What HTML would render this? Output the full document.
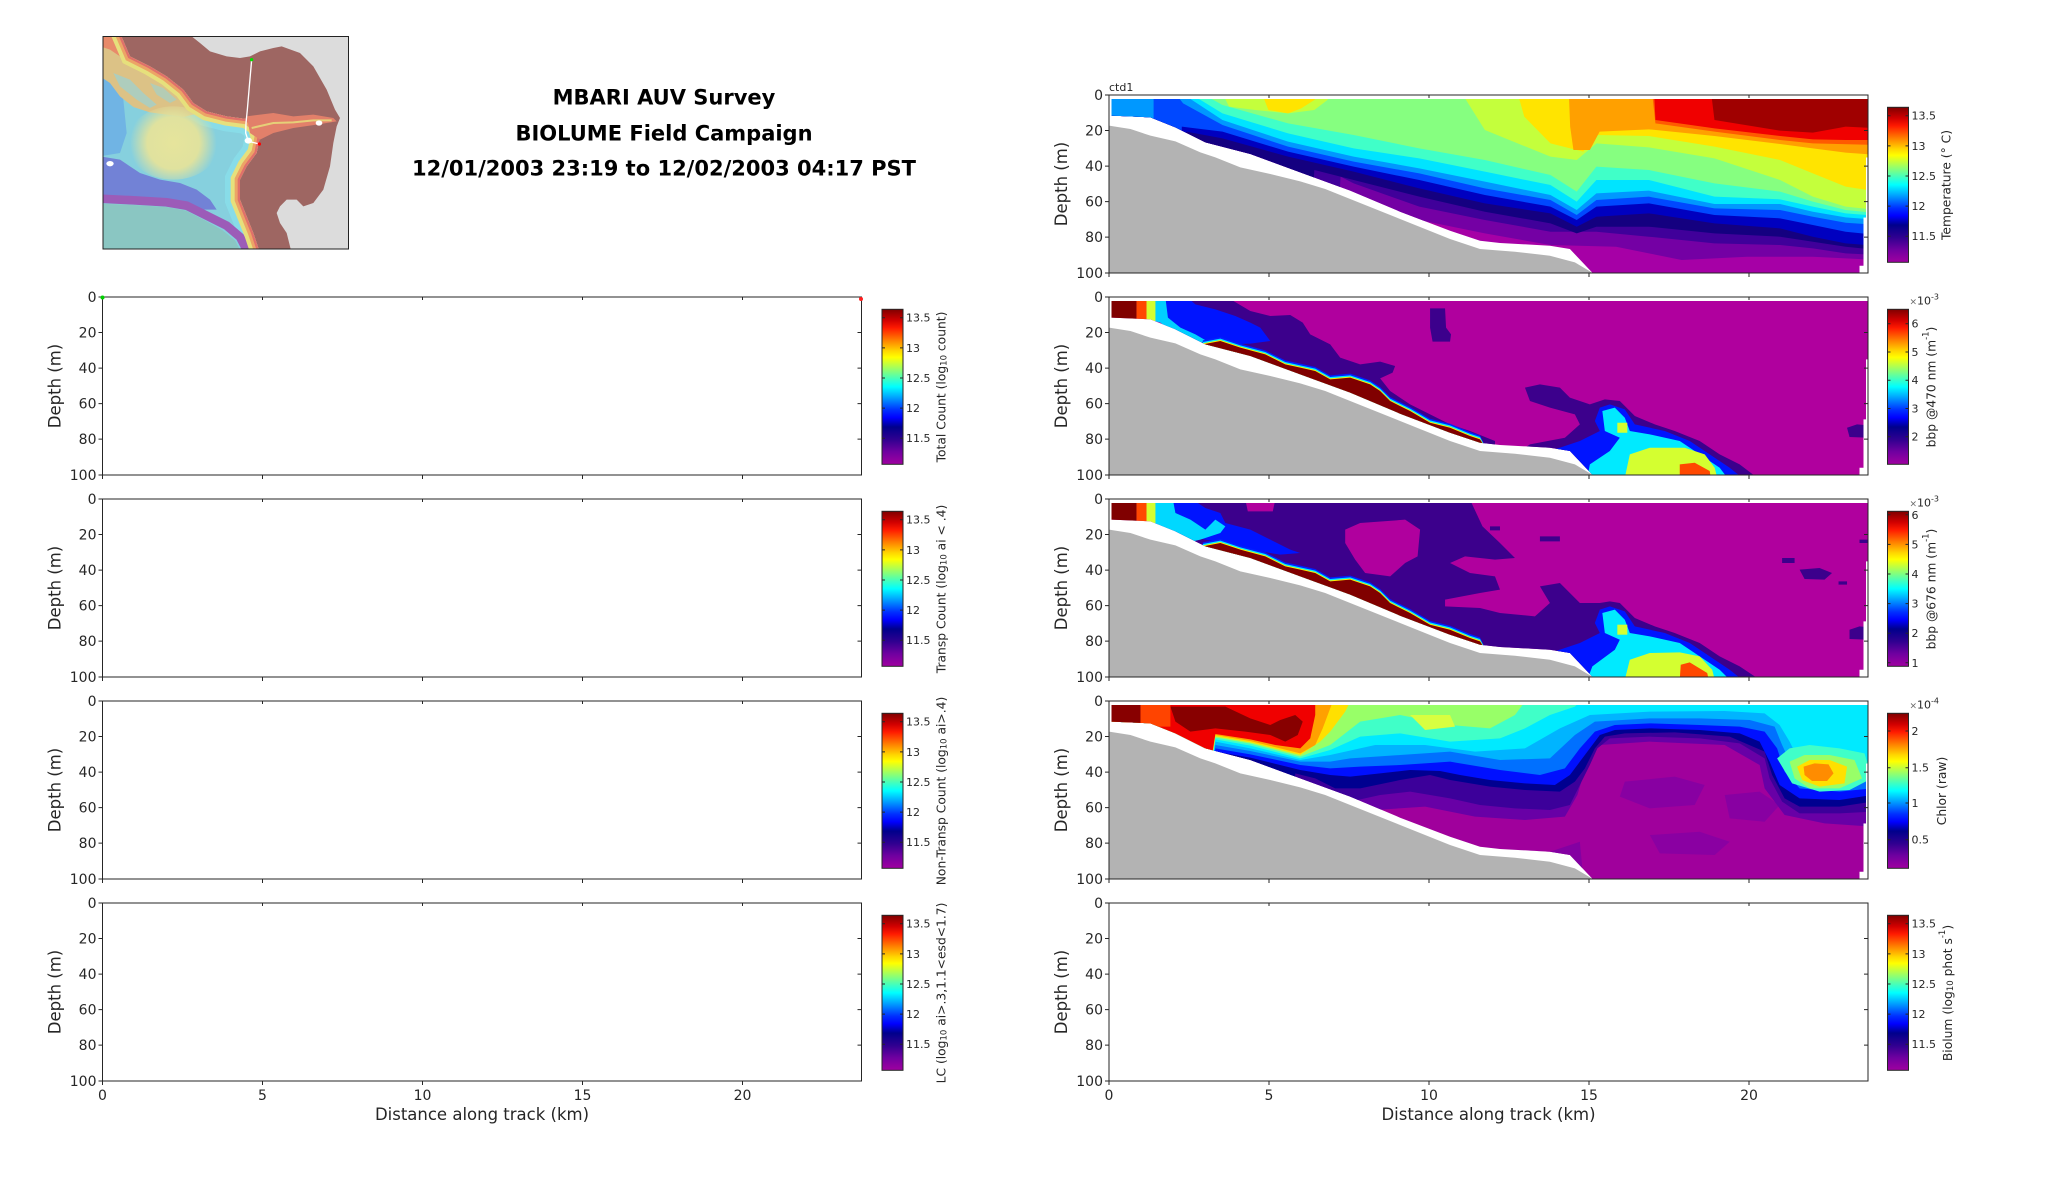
<!DOCTYPE html>
<html><head><meta charset="utf-8">
<style>
html,body{margin:0;padding:0;background:#fff;}
svg{display:block;}
text{font-family:"DejaVu Sans","Liberation Sans",sans-serif;fill:#262626;}
</style></head>
<body>
<svg width="2052" height="1188" viewBox="0 0 2052 1188" xmlns="http://www.w3.org/2000/svg" xmlns:xlink="http://www.w3.org/1999/xlink">
<defs>
<linearGradient id="cm" x1="0" y1="0" x2="0" y2="1">
<stop offset="0" stop-color="#7f0000"/><stop offset="0.07" stop-color="#d00000"/><stop offset="0.12" stop-color="#ff1a00"/>
<stop offset="0.2" stop-color="#ff8000"/><stop offset="0.27" stop-color="#ffd800"/><stop offset="0.31" stop-color="#ffff00"/>
<stop offset="0.38" stop-color="#a0ff60"/><stop offset="0.45" stop-color="#40ffc0"/><stop offset="0.5" stop-color="#00ffff"/>
<stop offset="0.57" stop-color="#00a0ff"/><stop offset="0.65" stop-color="#0030ff"/><stop offset="0.7" stop-color="#0000ff"/>
<stop offset="0.76" stop-color="#00008c"/><stop offset="0.84" stop-color="#300090"/><stop offset="0.92" stop-color="#7000a0"/>
<stop offset="1" stop-color="#a000a0"/>
</linearGradient>
<radialGradient id="py" cx="220" cy="330" r="130" gradientUnits="userSpaceOnUse">
<stop offset="0" stop-color="#e6e49c"/><stop offset="0.6" stop-color="#e0e29e"/><stop offset="1" stop-color="#e0e29e" stop-opacity="0"/>
</radialGradient>
<clipPath id="dom"><polygon points="22,30 1537,30 1537,205 1533,205 1533,385 1528,385 1528,530 1520,530 1520,551 985,551 940,480 900,470 800,462 760,455 700,425 600,368 500,305 400,250 300,195 210,160 150,115 100,85 22,80"/></clipPath>
<clipPath id="mc2"><rect x="8" y="10" width="737" height="638"/></clipPath>
<clipPath id="rclip"><polygon points="0,0 60,0 90,70 150,100 200,130 250,170 280,210 320,235 380,250 440,258 470,280 480,310 470,360 440,400 420,440 420,500 440,550 460,600 480,660 0,660"/></clipPath>

<g id="ax" stroke="#262626" stroke-width="1" fill="none">
<rect x="0" y="0" width="759" height="178"/>
<path d="M0,0h-4M0,35.54h-4M0,71.08h-4M0,106.62h-4M0,142.16h-4M0,178h-4M759,35.54h-4M759,71.08h-4M759,106.62h-4M759,142.16h-4M160,0v3M320,0v3M480,0v3M640,0v3M0,178v4M160,178v4M320,178v4M480,178v4M640,178v4"/>
</g>
<g id="yl" font-size="14" text-anchor="end" fill="#262626" font-family="DejaVu Sans, sans-serif">
<text x="-6" y="5">0</text><text x="-6" y="40.5">20</text><text x="-6" y="76">40</text>
<text x="-6" y="111.6">60</text><text x="-6" y="147.2">80</text><text x="-6" y="183">100</text>
</g>
<g id="cbStd">
<rect x="0" y="0" width="21" height="155" fill="url(#cm)" stroke="#262626" stroke-width="1"/>
<path d="M0,8.4h3M21,8.4h-3M0,38.6h3M21,38.6h-3M0,68.7h3M21,68.7h-3M0,98.8h3M21,98.8h-3M0,128.9h3M21,128.9h-3" stroke="#262626" stroke-width="1"/>
<g font-size="11" fill="#262626" font-family="DejaVu Sans, sans-serif">
<text x="24" y="12.4">13.5</text><text x="24" y="42.6">13</text><text x="24" y="72.7">12.5</text><text x="24" y="102.8">12</text><text x="24" y="132.9">11.5</text>
</g>
</g>
<g id="gray"><polygon fill="#b3b3b3" points="17,551 17,110 60,120 100,140 150,157 200,190 230,205 280,235 340,255 400,277 450,300 500,330 600,390 700,450 760,480 830,488 900,500 950,520 985,551"/></g>
<g id="band">
<polygon fill="#0020ff" points="205,148 240,138 280,158 330,178 370,208 400,218 430,228 460,253 500,248 540,268 560,288 580,318 620,348 660,383 700,398 740,423 760,433 775,480 200,220"/>
<polygon fill="#00eaff" points="205,153 240,143 280,163 330,183 370,213 400,223 430,233 460,258 500,253 540,273 560,293 580,323 620,353 660,388 700,403 740,428 760,438 775,480 200,220"/>
<polygon fill="#ffee00" points="205,157 240,147 280,167 330,187 370,217 400,227 430,237 460,262 500,257 540,277 560,297 580,327 620,357 660,392 700,407 740,432 760,442 775,480 200,220"/>
<polygon fill="#800000" points="205,160 240,150 280,170 330,190 370,220 400,230 430,240 460,265 500,260 540,280 560,300 580,330 620,360 660,395 700,410 740,435 760,445 775,480 600,420 400,300 200,220"/>
</g>
</defs>

<rect width="2052" height="1188" fill="#fff"/>

<!-- MAP -->
<g transform="translate(100,33) scale(0.333333)">
<g clip-path="url(#mc2)">
<rect x="0" y="0" width="760" height="660" fill="#dcdcdc"/>
<polygon fill="#9e6662" points="0,0 275,0 275,10 300,30 330,55 380,70 420,75 450,70 480,55 520,45 545,40 600,60 640,100 680,170 705,230 720,255 710,280 700,330 690,400 670,470 640,510 610,520 590,500 560,500 540,520 530,540 540,570 560,600 575,660 0,660"/>
<g clip-path="url(#rclip)">
<rect x="0" y="0" width="760" height="660" fill="#86d0de"/>
<polyline fill="none" stroke="#88dce8" stroke-width="90" points="60,0 90,70 150,100 200,130 250,170 280,210 320,235 380,250 440,258 470,280 480,310 470,360 440,400 420,440 420,500 440,550 460,600 480,660"/>
<polygon fill="#70b4e4" points="0,120 40,130 70,200 80,300 60,360 0,370"/>
<polygon fill="#dcc286" points="0,0 60,0 90,70 150,100 200,130 250,170 280,210 300,240 250,252 200,245 150,238 100,222 60,190 30,150 0,130"/>
<polygon fill="#9ad2d4" opacity="0.7" points="40,120 90,140 130,180 170,215 150,225 110,200 60,160"/>
<polygon fill="#9ad2d4" opacity="0.6" points="150,150 190,165 230,200 210,210 170,185"/>
<polygon fill="#e88a6a" points="0,0 60,0 80,50 60,70 30,50 0,40"/>
<ellipse cx="220" cy="330" rx="140" ry="110" fill="url(#py)"/>
<polygon fill="#7282d6" points="0,370 60,380 120,420 180,440 240,450 290,470 330,500 350,530 300,530 220,505 120,495 0,490"/>
<polyline fill="none" stroke="#9c5cb8" stroke-width="26" points="0,497 100,502 200,508 260,518 320,548 380,578 420,612 445,660"/>
<polygon fill="#8ac6c2" points="0,512 100,516 200,522 258,533 315,562 368,592 405,622 425,660 0,660"/>
<polyline fill="none" stroke="#e6e07c" stroke-width="56" points="60,0 90,70 150,100 200,130 250,170 280,210 320,235 380,250 440,258 470,280 480,310 470,360 440,400 420,440 420,500 440,550 460,600 480,660"/>
<polyline fill="none" stroke="#eca466" stroke-width="32" points="60,0 90,70 150,100 200,130 250,170 280,210 320,235 380,250 440,258 470,280 480,310 470,360 440,400 420,440 420,500 440,550 460,600 480,660"/>
<polyline fill="none" stroke="#e0706a" stroke-width="14" points="60,0 90,70 150,100 200,130 250,170 280,210 320,235 380,250 440,258 470,280 480,310 470,360 440,400 420,440 420,500 440,550 460,600 480,660"/>
</g>
<polygon fill="#e2806a" points="440,250 520,240 580,250 640,245 700,255 710,265 650,275 580,285 520,300 480,320 450,300"/>
<polyline fill="none" stroke="#e6cf78" stroke-width="6" points="455,285 520,270 580,268 640,262 695,262"/>
<polyline fill="none" stroke="#fff" stroke-width="4" points="455,80 448,160 442,230 438,270 437,300 445,325 478,333"/>
<ellipse cx="445" cy="323" rx="11" ry="9" fill="#fff"/>
<circle cx="455" cy="80" r="5" fill="#00e000"/>
<circle cx="478" cy="333" r="5" fill="#ff0000"/>
<ellipse cx="657" cy="270" rx="10" ry="8" fill="#fff"/>
<ellipse cx="30" cy="392" rx="11" ry="8" fill="#fff"/>
</g>
</g>
<rect x="103" y="36.5" width="245.5" height="212.5" fill="none" stroke="#222" stroke-width="1"/>

<!-- TITLE -->
<g font-weight="bold" font-size="21" text-anchor="middle">
<text x="664" y="104.6" style="fill:#000">MBARI AUV Survey</text>
<text x="664" y="140.6" style="fill:#000">BIOLUME Field Campaign</text>
<text x="664" y="175.6" style="fill:#000">12/01/2003 23:19 to 12/02/2003 04:17 PST</text>
</g>

<!-- RIGHT PANEL 0 : Temperature -->
<g transform="translate(1100.51,89) scale(0.49934,0.33339)">
<g clip-path="url(#dom)">
<rect x="0" y="0" width="1600" height="600" fill="#a600a6"/>
<g transform="matrix(1.3137,0,0,1,-149.84,-87)">
<polygon fill="#7400a4" points="127,700 470,700 490,400 540,450 600,480 700,520 800,555 900,560 1000,600 1100,590 1200,590 1300,600 1300,100 127,100"/>
<polygon fill="#40009a" points="127,700 470,700 480,350 500,370 600,440 700,480 800,515 870,515 950,530 1050,550 1150,555 1200,565 1250,580 1300,585 1300,100 127,100"/>
<polygon fill="#140080" points="127,700 430,700 440,330 500,360 600,410 700,455 800,490 840,520 870,500 950,500 1050,520 1150,530 1200,545 1250,560 1300,570 1300,100 127,100"/>
<polygon fill="#0000c0" points="127,700 240,700 245,215 300,235 400,290 500,335 600,385 700,430 800,460 840,500 870,470 950,460 1050,490 1150,505 1200,530 1250,550 1300,558 1300,100 127,100"/>
<polygon fill="#0048ff" points="127,700 230,700 238,200 300,215 400,275 500,320 600,360 700,405 800,440 840,480 870,440 950,430 1050,465 1150,475 1200,495 1250,515 1300,525 1300,100 127,100"/>
<polygon fill="#0098ff" points="127,100 195,100 195,175 127,175"/>
<polygon fill="#0098ff" points="228,100 240,130 300,195 400,260 500,305 600,340 700,385 800,420 840,465 870,420 950,410 1050,445 1150,450 1200,470 1250,488 1300,495 1300,100"/>
<polygon fill="#00e4ff" points="238,100 300,180 400,245 500,290 600,325 700,365 800,405 840,450 870,400 950,392 1050,432 1150,432 1200,455 1250,472 1300,480 1300,100"/>
<polygon fill="#40ffc8" points="250,100 300,160 400,220 500,265 600,295 700,335 800,375 840,425 870,360 950,360 1050,410 1150,418 1200,440 1250,460 1300,468 1300,100"/>
<polygon fill="#86ff80" points="268,100 300,135 400,190 500,225 600,265 700,300 800,345 840,395 870,320 950,330 1050,370 1150,395 1200,425 1250,450 1300,460 1300,100"/>
<polygon fill="#c4ff3c" points="300,100 310,140 350,150 400,160 440,150 460,120 465,100"/>
<polygon fill="#c4ff3c" points="665,100 700,210 800,290 840,300 870,250 950,262 1050,295 1150,360 1200,410 1250,440 1300,450 1300,100"/>
<polygon fill="#ffe400" points="360,100 370,150 400,160 420,145 440,120 450,100"/>
<polygon fill="#ffe400" points="750,100 760,170 800,250 850,275 870,225 950,228 1050,260 1150,300 1200,340 1250,380 1300,395 1300,100"/>
<polygon fill="#ffa000" points="828,100 830,200 835,270 860,270 875,215 950,208 1050,228 1150,252 1200,265 1250,278 1300,285 1300,100"/>
<polygon fill="#ff5a00" points="955,100 960,190 1050,215 1150,240 1200,250 1300,255 1300,100"/>
<polygon fill="#f00000" points="958,100 960,180 1050,205 1150,228 1200,238 1250,240 1300,240 1300,100"/>
<polygon fill="#a00000" points="1045,100 1050,180 1150,212 1200,218 1250,200 1300,205 1300,100"/>
</g>
</g>
<use xlink:href="#gray"/>
</g>

<!-- RIGHT PANEL 1 : bbp470 -->
<g transform="translate(1100.51,291) scale(0.49934,0.33339)">
<g clip-path="url(#dom)">
<rect x="0" y="0" width="1600" height="600" fill="#b0009e"/>
<g fill="#3c008c">
<polygon points="150,20 255,20 300,60 340,75 380,72 405,95 420,130 460,160 480,200 520,220 560,212 590,225 585,245 560,262 580,300 620,340 660,370 700,400 740,420 790,450 790,480 150,480"/>
<polygon points="660,52 690,52 692,110 702,130 700,152 665,152 660,110"/>
<polygon points="840,480 860,460 930,440 960,400 950,370 900,350 860,330 850,290 880,280 920,290 940,320 980,340 1010,325 1040,330 1070,375 1110,400 1150,420 1200,450 1240,490 1280,520 1315,560 840,560"/>
<polygon points="1495,410 1515,400 1540,403 1540,440 1500,438"/>
</g>
<g fill="#0014ff">
<polygon points="130,20 175,20 190,40 230,55 270,75 300,95 320,110 340,150 300,158 250,160 200,150 165,120 135,90"/>
<polygon points="900,480 960,450 1000,420 990,390 1000,350 1020,340 1050,355 1070,400 1130,420 1180,450 1220,490 1260,530 1285,560 900,560"/>
</g>
<polygon fill="#00d0ff" points="110,20 130,20 135,80 160,110 190,130 215,152 180,158 150,130 120,95 108,90"/>
<polygon fill="#00eaff" points="975,560 980,520 1020,480 1040,440 1010,420 1005,360 1030,350 1050,380 1060,420 1100,430 1160,450 1200,490 1240,530 1255,560"/>
<g fill="#d4ff30">
<polygon points="1050,560 1060,490 1100,470 1170,470 1210,490 1230,530 1235,560"/>
<polygon points="1035,395 1055,395 1055,425 1035,425"/>
<polygon points="92,20 110,20 110,90 92,90"/>
</g>
<g fill="#ff4800">
<polygon points="1160,560 1160,520 1190,515 1220,540 1222,560"/>
<polygon points="72,20 92,20 92,88 72,88"/>
</g>
<polygon fill="#800000" points="17,20 72,20 72,88 17,88"/>
<use xlink:href="#band"/>
</g>
<use xlink:href="#gray"/>
</g>

<!-- RIGHT PANEL 2 : bbp676 -->
<g transform="translate(1100.51,493) scale(0.49934,0.33339)">
<g clip-path="url(#dom)">
<rect x="0" y="0" width="1600" height="600" fill="#b0009e"/>
<g fill="#3c008c">
<polygon points="150,20 290,20 295,55 345,55 350,20 740,20 765,100 800,150 830,195 790,200 730,190 700,210 740,240 790,250 800,290 760,300 690,320 690,340 760,345 800,360 870,370 900,330 880,280 920,270 960,330 1000,330 1020,325 1040,330 1070,375 1110,400 1150,420 1200,450 1240,490 1280,520 1320,560 150,560"/>
</g>
<polygon fill="#b0009e" points="490,110 520,90 610,80 640,110 635,190 610,210 580,250 530,240 510,200 490,150"/>
<g fill="#3c008c">
<polygon points="880,130 920,130 920,145 880,145"/>
<polygon points="1400,230 1440,225 1465,240 1450,260 1410,258"/>
<polygon points="1365,195 1390,195 1390,210 1365,210"/>
<polygon points="1478,265 1495,265 1495,275 1478,275"/>
<polygon points="1500,410 1520,400 1540,403 1540,440 1500,438"/>
<polygon points="1520,140 1540,140 1540,150 1520,150"/>
<polygon points="780,100 800,100 800,112 780,112"/>
</g>
<g fill="#0014ff">
<polygon points="145,20 185,20 210,45 240,60 250,90 300,110 340,140 380,170 400,180 360,185 300,170 250,150 210,140 180,130 150,110 130,90"/>
<polygon points="900,480 960,450 1000,420 990,390 1000,350 1020,340 1050,355 1070,400 1130,420 1180,450 1220,490 1260,530 1285,560 900,560"/>
</g>
<polygon fill="#00d8ff" points="110,20 145,20 150,60 180,80 210,110 230,80 250,100 240,120 200,140 170,150 130,110 108,90"/>
<polygon fill="#00eaff" points="975,560 985,520 1030,470 1040,440 1010,420 1005,360 1030,350 1050,380 1060,420 1100,430 1160,450 1200,490 1240,530 1260,560"/>
<g fill="#d4ff30">
<polygon points="1050,560 1060,500 1100,480 1160,478 1200,490 1225,530 1230,560"/>
<polygon points="1035,395 1055,395 1055,425 1035,425"/>
<polygon points="92,20 110,20 110,90 92,90"/>
</g>
<g fill="#ff4800">
<polygon points="1160,560 1162,515 1180,508 1215,540 1218,560"/>
<polygon points="72,20 92,20 92,88 72,88"/>
</g>
<polygon fill="#800000" points="17,20 72,20 72,88 17,88"/>
<use xlink:href="#band"/>
</g>
<use xlink:href="#gray"/>
</g>

<!-- RIGHT PANEL 3 : Chlor -->
<g transform="translate(1100.51,695) scale(0.49934,0.33339)">
<g clip-path="url(#dom)">
<rect x="0" y="0" width="1600" height="600" fill="#a0009c"/>
<polygon fill="#8400a2" points="460,600 470,420 600,440 750,460 900,470 960,440 970,600"/>
<polygon fill="#8800a2" points="1050,260 1150,245 1210,270 1190,330 1100,340 1040,305"/>
<polygon fill="#8800a2" points="1250,300 1320,290 1360,330 1330,380 1260,370"/>
<polygon fill="#8a00a2" points="1100,420 1200,410 1260,440 1230,480 1120,475"/>
<polygon fill="#6800a6" points="17,600 460,600 470,330 550,345 650,335 750,365 850,375 930,365 955,300 975,200 1000,150 1100,140 1250,150 1320,210 1330,280 1370,360 1450,385 1545,395 1545,20 17,20"/>
<polygon fill="#3c009a" points="17,600 440,600 450,300 500,320 560,300 620,290 700,310 760,330 830,340 900,345 940,330 960,270 980,210 995,160 1020,130 1100,125 1200,130 1280,145 1330,190 1340,250 1365,320 1400,355 1480,355 1545,350 1545,20 17,20"/>
<polygon fill="#000090" points="17,600 380,600 390,235 430,250 470,280 520,280 600,255 660,240 700,255 780,275 850,285 920,290 950,260 970,220 990,160 1010,125 1050,115 1150,112 1260,125 1330,170 1345,240 1370,310 1400,335 1480,335 1545,320 1545,20 17,20"/>
<polygon fill="#0010ff" points="17,600 215,600 230,170 300,188 400,225 460,240 500,245 560,235 620,225 680,228 720,240 780,255 850,265 910,270 940,240 960,200 985,150 1000,120 1030,105 1100,100 1200,105 1280,115 1320,140 1340,200 1360,270 1400,310 1480,315 1545,300 1545,20 17,20"/>
<polygon fill="#0070ff" points="17,600 205,600 230,160 300,178 400,210 460,220 520,215 600,210 700,200 800,225 880,240 930,220 960,160 990,110 1030,90 1100,85 1200,90 1280,95 1330,110 1355,160 1370,230 1400,280 1480,290 1545,280 1545,20 17,20"/>
<polygon fill="#00b4ff" points="17,600 195,600 230,150 300,168 400,200 460,200 500,190 600,180 700,170 800,195 900,190 950,120 990,80 1100,70 1200,70 1300,75 1350,95 1365,150 1390,230 1420,260 1480,270 1545,255 1545,20 17,20"/>
<polygon fill="#00eaff" points="17,600 188,600 230,140 300,160 400,195 460,180 550,150 650,150 750,170 850,160 920,100 980,60 1100,50 1250,48 1330,55 1360,90 1380,140 1400,200 1450,230 1545,225 1545,20 17,20"/>
<polygon fill="#40ffc8" points="17,600 186,600 230,133 300,152 400,190 460,165 520,125 600,115 700,140 800,130 850,100 900,60 950,35 960,20 17,20"/>
<polygon fill="#40ffc8" points="1355,190 1380,160 1420,150 1480,160 1530,175 1545,250 1500,285 1440,290 1385,265"/>
<polygon fill="#98ff68" points="17,600 184,600 230,128 300,146 400,185 460,150 520,80 600,60 700,90 780,100 830,60 850,20 17,20"/>
<polygon fill="#98ff68" points="1380,200 1410,180 1460,180 1510,195 1525,250 1480,280 1420,280 1390,250"/>
<polygon fill="#d8ff40" points="620,60 700,60 710,95 650,105"/>
<polygon fill="#ffe000" points="17,600 182,600 230,124 300,142 400,180 440,140 460,110 490,50 500,20 17,20"/>
<polygon fill="#ffe000" points="1395,215 1420,195 1460,195 1495,215 1490,265 1440,275 1405,255"/>
<polygon fill="#ffa000" points="17,600 180,600 230,120 300,138 400,175 430,150 445,100 460,40 465,20 17,20"/>
<polygon fill="#ff8c00" points="1408,215 1430,205 1458,208 1468,235 1455,258 1425,258 1410,240"/>
<polygon fill="#f00000" points="17,600 178,600 230,117 300,133 350,150 400,160 420,130 430,60 430,20 17,20"/>
<polygon fill="#ff4400" points="80,20 140,20 140,95 80,95"/>
<g fill="#880000">
<polygon points="17,20 80,20 80,85 17,85"/>
<polygon points="140,35 250,35 300,70 340,90 360,75 390,60 405,80 395,120 370,140 340,120 290,110 230,100 180,110 150,80"/>
</g>
</g>
<use xlink:href="#gray"/>
</g>

<!-- AXES FRAMES -->
<use xlink:href="#ax" x="102.5" y="297"/>
<use xlink:href="#ax" x="102.5" y="499"/>
<use xlink:href="#ax" x="102.5" y="701"/>
<use xlink:href="#ax" x="102.5" y="903"/>
<use xlink:href="#ax" x="1109" y="95"/>
<use xlink:href="#ax" x="1109" y="297"/>
<use xlink:href="#ax" x="1109" y="499"/>
<use xlink:href="#ax" x="1109" y="701"/>
<use xlink:href="#ax" x="1109" y="903"/>

<circle cx="102.5" cy="297.5" r="2" fill="#00d000"/>
<circle cx="861" cy="299" r="2" fill="#ff2020"/>

<!-- Y tick labels -->
<use xlink:href="#yl" x="102.5" y="297"/>
<use xlink:href="#yl" x="102.5" y="499"/>
<use xlink:href="#yl" x="102.5" y="701"/>
<use xlink:href="#yl" x="102.5" y="903"/>
<use xlink:href="#yl" x="1109" y="95"/>
<use xlink:href="#yl" x="1109" y="297"/>
<use xlink:href="#yl" x="1109" y="499"/>
<use xlink:href="#yl" x="1109" y="701"/>
<use xlink:href="#yl" x="1109" y="903"/>

<!-- Y labels -->
<g font-size="16.5" text-anchor="middle" dominant-baseline="central">
<text transform="translate(55,386) rotate(-90)">Depth (m)</text>
<text transform="translate(55,588) rotate(-90)">Depth (m)</text>
<text transform="translate(55,790) rotate(-90)">Depth (m)</text>
<text transform="translate(55,992) rotate(-90)">Depth (m)</text>
<text transform="translate(1061.7,184) rotate(-90)">Depth (m)</text>
<text transform="translate(1061.7,386) rotate(-90)">Depth (m)</text>
<text transform="translate(1061.7,588) rotate(-90)">Depth (m)</text>
<text transform="translate(1061.7,790) rotate(-90)">Depth (m)</text>
<text transform="translate(1061.7,992) rotate(-90)">Depth (m)</text>
</g>

<text x="1109" y="91" font-size="11">ctd1</text>

<!-- X tick labels -->
<g font-size="14" text-anchor="middle">
<text x="102.5" y="1100">0</text><text x="262.5" y="1100">5</text><text x="422.5" y="1100">10</text><text x="582.5" y="1100">15</text><text x="742.5" y="1100">20</text>
<text x="1109" y="1100">0</text><text x="1269" y="1100">5</text><text x="1429" y="1100">10</text><text x="1589" y="1100">15</text><text x="1749" y="1100">20</text>
</g>
<g font-size="16.5" text-anchor="middle">
<text x="482" y="1120">Distance along track (km)</text>
<text x="1488.5" y="1120">Distance along track (km)</text>
</g>

<!-- COLORBARS -->
<use xlink:href="#cbStd" x="882" y="309.3"/>
<use xlink:href="#cbStd" x="882" y="511.3"/>
<use xlink:href="#cbStd" x="882" y="713.3"/>
<use xlink:href="#cbStd" x="882" y="915.3"/>
<use xlink:href="#cbStd" x="1887.5" y="107.3"/>
<use xlink:href="#cbStd" x="1887.5" y="915.3"/>

<g transform="translate(1887.5,309.3)">
<rect x="0" y="0" width="21" height="155" fill="url(#cm)" stroke="#262626" stroke-width="1"/>
<path d="M0,14.4h3M21,14.4h-3M0,42.7h3M21,42.7h-3M0,70.9h3M21,70.9h-3M0,99.2h3M21,99.2h-3M0,127.4h3M21,127.4h-3" stroke="#262626"/>
<g font-size="11"><text x="24" y="18.4">6</text><text x="24" y="46.7">5</text><text x="24" y="74.9">4</text><text x="24" y="103.2">3</text><text x="24" y="131.4">2</text></g>
<text x="22" y="-5" font-size="11"><tspan font-size="9" style="fill:#666">×</tspan>10<tspan dy="-5" font-size="8">-3</tspan></text>
</g>
<g transform="translate(1887.5,511.3)">
<rect x="0" y="0" width="21" height="155" fill="url(#cm)" stroke="#262626" stroke-width="1"/>
<path d="M0,3.5h3M21,3.5h-3M0,33.1h3M21,33.1h-3M0,62.7h3M21,62.7h-3M0,92.3h3M21,92.3h-3M0,121.9h3M21,121.9h-3M0,151.5h3M21,151.5h-3" stroke="#262626"/>
<g font-size="11"><text x="24" y="7.5">6</text><text x="24" y="37.1">5</text><text x="24" y="66.7">4</text><text x="24" y="96.3">3</text><text x="24" y="125.9">2</text><text x="24" y="155.5">1</text></g>
<text x="22" y="-5" font-size="11"><tspan font-size="9" style="fill:#666">×</tspan>10<tspan dy="-5" font-size="8">-3</tspan></text>
</g>
<g transform="translate(1887.5,713.3)">
<rect x="0" y="0" width="21" height="155" fill="url(#cm)" stroke="#262626" stroke-width="1"/>
<path d="M0,17.7h3M21,17.7h-3M0,54.4h3M21,54.4h-3M0,89.7h3M21,89.7h-3M0,126.4h3M21,126.4h-3" stroke="#262626"/>
<g font-size="11"><text x="24" y="21.7">2</text><text x="24" y="58.4">1.5</text><text x="24" y="93.7">1</text><text x="24" y="130.4">0.5</text></g>
<text x="22" y="-5" font-size="11"><tspan font-size="9" style="fill:#666">×</tspan>10<tspan dy="-5" font-size="8">-4</tspan></text>
</g>

<!-- COLORBAR LABELS -->
<g font-size="12.3" text-anchor="middle" dominant-baseline="central">
<text transform="translate(941.7,387) rotate(-90)">Total Count (log<tspan dy="3" font-size="8.5">10</tspan><tspan dy="-3"> count)</tspan></text>
<text transform="translate(941.7,589) rotate(-90)">Transp Count (log<tspan dy="3" font-size="8.5">10</tspan><tspan dy="-3"> ai &lt; .4)</tspan></text>
<text transform="translate(941.7,791) rotate(-90)">Non-Transp Count (log<tspan dy="3" font-size="8.5">10</tspan><tspan dy="-3"> ai&gt;.4)</tspan></text>
<text transform="translate(941.7,993) rotate(-90)">LC (log<tspan dy="3" font-size="8.5">10</tspan><tspan dy="-3"> ai&gt;.3,1.1&lt;esd&lt;1.7)</tspan></text>
<text transform="translate(1946.7,185) rotate(-90)">Temperature (° C)</text>
<text transform="translate(1931.7,387) rotate(-90)">bbp @470 nm (m<tspan dy="-5" font-size="8.5">-1</tspan><tspan dy="5">)</tspan></text>
<text transform="translate(1931.7,589) rotate(-90)">bbp @676 nm (m<tspan dy="-5" font-size="8.5">-1</tspan><tspan dy="5">)</tspan></text>
<text transform="translate(1942,791) rotate(-90)">Chlor (raw)</text>
<text transform="translate(1948,993) rotate(-90)">Biolum (log<tspan dy="3" font-size="8.5">10</tspan><tspan dy="-3"> phot s</tspan><tspan dy="-5" font-size="8.5">-1</tspan><tspan dy="5">)</tspan></text>
</g>
</svg>
</body></html>
